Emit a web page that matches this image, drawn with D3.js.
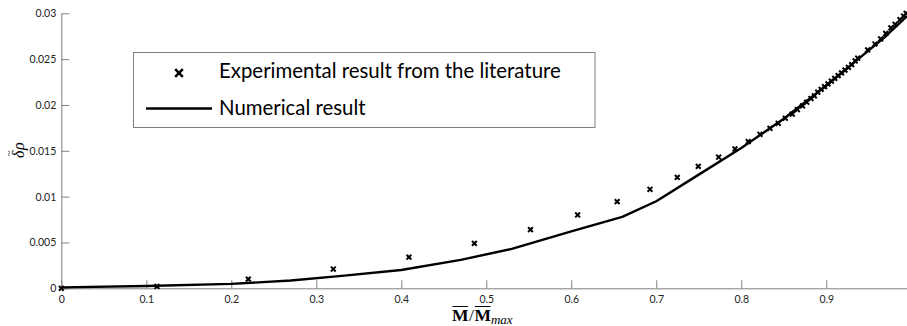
<!DOCTYPE html>
<html><head><meta charset="utf-8">
<script src="https://cdn.jsdelivr.net/npm/d3@7"></script>
<style>body{margin:0;background:#fff}svg{display:block}</style>
</head><body>
<svg id="c" width="907" height="326"></svg>
<script>
const xTicks = [0,0.1,0.2,0.3,0.4,0.5,0.6,0.7,0.8,0.9];
const yTicks = [0,0.005,0.01,0.015,0.02,0.025,0.03];
const yTickLabels = ["0","0.005","0.01","0.015","0.02","0.025","0.03"];

const expX = [0,0.1126,0.22,0.32,0.409,0.486,0.552,0.6075,0.654,0.6926,0.7247,0.7494,0.7734,0.7926,0.8082,0.822,0.8338,0.8435,0.8518,0.86,
  0.866,0.872,0.877,0.882,0.886,0.890,0.894,0.898,0.902,0.906,0.910,0.914,0.918,0.922,0.926,0.930,0.934,0.937,
  0.9487,0.9573,0.964,0.970,0.976,0.981,0.9867,0.991,0.994];
const expY = [0,0.0002,0.001,0.0021,0.0034,0.0049,0.0064,0.0080,0.00945,0.0108,0.0121,0.0133,0.0143,0.0152,0.0160,0.0168,0.01745,0.0180,0.01855,0.0190,
  0.0195,0.0199,0.0203,0.0207,0.0210,0.0214,0.0217,0.0220,0.0223,0.0226,0.0229,0.0232,0.0235,0.0238,0.0241,0.0244,0.0248,0.0251,
  0.0260,0.02665,0.0272,0.0278,0.0284,0.0288,0.0293,0.0297,0.0300];

const numX = [0,0.1,0.2,0.27,0.33,0.4,0.47,0.53,0.6,0.66,0.7,0.75,0.8,0.85,0.9,0.94,0.97,0.995];
const numY = [0.0001,0.00025,0.00048,0.00085,0.00135,0.0020,0.0031,0.0043,0.0062,0.0078,0.0095,0.0124,0.0153,0.0185,0.0221,0.0252,0.0275,0.0297];

const legendLabels = ["Experimental result from the literature","Numerical result"];

const svg = d3.select("#c");
const x = d3.scaleLinear().domain([0,0.995]).range([61.3,907]);
const y = d3.scaleLinear().domain([0,0.03]).range([288.3,13.3]);
const axisCol = "#808080";
const tickFont = "Lato, 'Open Sans', sans-serif";

const gx = svg.append("g").attr("transform",`translate(0,${y(0)})`)
  .call(d3.axisBottom(x).tickValues(xTicks).tickFormat(d3.format("")).tickSizeInner(-8).tickSizeOuter(0).tickPadding(7));
const gy = svg.append("g").attr("transform",`translate(${x(0)},0)`)
  .call(d3.axisLeft(y).tickValues(yTicks).tickFormat((d,i)=>yTickLabels[i]).tickSizeInner(-8).tickSizeOuter(0).tickPadding(5));
[gx,gy].forEach(g=>{
  g.select(".domain").attr("stroke",axisCol).attr("stroke-width",1);
  g.selectAll(".tick line").attr("stroke",axisCol);
  g.selectAll(".tick text").attr("fill","#222").style("font-family",tickFont).style("font-size","10.5px");
});

// numerical line
svg.append("path").datum(numX.map((d,i)=>[d,numY[i]]))
  .attr("fill","none").attr("stroke","#000").attr("stroke-width",2.4).attr("stroke-linejoin","round")
  .attr("d",d3.line().x(d=>x(d[0])).y(d=>y(d[1])));

// experimental markers
const cross = (s)=>`M${-s},${-s}L${s},${s}M${-s},${s}L${s},${-s}`;
svg.append("g").selectAll("path").data(expX.map((d,i)=>[d,expY[i]])).join("path")
  .attr("transform",d=>`translate(${x(d[0])},${y(d[1])})`)
  .attr("d",cross(2.4)).attr("stroke","#000").attr("stroke-width",2).attr("fill","none");

// legend
const lg = svg.append("g");
lg.append("rect").attr("x",133.5).attr("y",52.5).attr("width",461.5).attr("height",75)
  .attr("fill","#fff").attr("stroke",axisCol).attr("stroke-width",1);
lg.append("path").attr("transform","translate(179,73)").attr("d",cross(3.8)).attr("stroke","#000").attr("stroke-width",2.6);
lg.append("line").attr("x1",146).attr("x2",212).attr("y1",108.5).attr("y2",108.5).attr("stroke","#000").attr("stroke-width",2.4);
const t1 = lg.append("text").attr("x",219).attr("y",78).text(legendLabels[0])
  .style("font-family",tickFont).style("font-size","18px").attr("fill","#000");
const w = t1.node().getComputedTextLength();
const fs = 18*342/w;
t1.style("font-size",fs+"px");
lg.append("text").attr("x",219).attr("y",115).text(legendLabels[1])
  .style("font-family",tickFont).style("font-size",fs+"px").attr("fill","#000");

// x label: M̄/M̄max
const xl = svg.append("g");
let cx = 452;
const base = 321;
function piece(txt, opts){
  const t = xl.append("text").attr("x",cx).attr("y",base+(opts.dy||0)).text(txt)
    .style("font-family","'Liberation Serif', serif").style("font-size",(opts.size||16)+"px")
    .style("font-weight",opts.bold?"bold":"normal").style("font-style",opts.italic?"italic":"normal");
  const wd = t.node().getComputedTextLength();
  if(opts.over){
    xl.append("line").attr("x1",cx+0.5).attr("x2",cx+wd-0.5).attr("y1",base-14.5).attr("y2",base-14.5)
      .attr("stroke","#000").attr("stroke-width",1);
  }
  cx += wd + (opts.gap||0);
}
piece("M",{bold:true,over:true,size:17.5,gap:0.5});
piece("/",{size:17.5,gap:0.5});
piece("M",{bold:true,over:true,size:17.5});
piece("max",{italic:true,size:13,dy:2.5});

// y label: δ̃ρ rotated
const yl = svg.append("g").attr("transform","translate(24,158) rotate(-90)");
const d1 = yl.append("text").attr("x",0).attr("y",0).text("δ")
  .style("font-family","'Liberation Serif', serif").style("font-style","italic").style("font-size","16px");
const dw = d1.node().getComputedTextLength();
yl.append("text").attr("x",1.5).attr("y",-12).text("~")
  .style("font-family","'Liberation Serif', serif").style("font-size","11px");
yl.append("text").attr("x",dw+0.5).attr("y",0).text("ρ")
  .style("font-family","'Liberation Serif', serif").style("font-style","italic").style("font-size","16px");
</script>
</body></html>
